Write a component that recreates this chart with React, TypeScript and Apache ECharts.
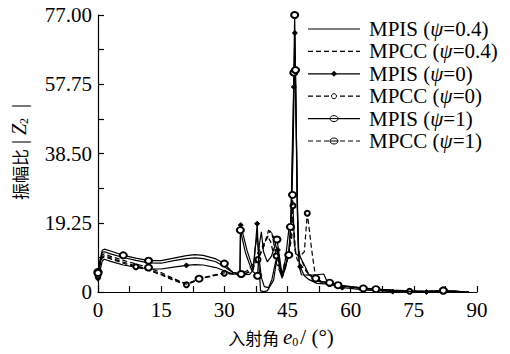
import React, { useEffect, useRef } from 'react';
import * as echarts from 'echarts';

const SERIF = 'Liberation Serif';
const CJK = 'Noto Sans CJK SC';
const FS = 21;

const seriesNames = ['MPIS (ψ=0.4)', 'MPCC (ψ=0.4)', 'MPIS (ψ=0)', 'MPCC (ψ=0)', 'MPIS (ψ=1)', 'MPCC (ψ=1)'];

// MPIS ψ=0.4
const mpis04X = [0, 0.5, 1, 1.5, 3, 6, 9, 12, 15, 18, 21, 23, 25, 28, 30, 32, 34, 36, 36.8, 37.3, 37.8, 38.3, 38.8, 39.5, 40.5, 41.3, 42, 42.6, 43.2, 43.7, 44.5, 45.3, 45.9, 46.3, 46.6, 46.8, 47.1, 47.4, 47.8, 48.3, 50, 52, 53.6, 54.4, 56, 58, 60, 63, 66, 70, 74, 78, 82, 85, 88];
const mpis04Y = [5.2, 8.5, 11, 11.2, 10.6, 9.6, 8.8, 8.1, 8.0, 8.7, 9.3, 9.5, 9.3, 8.4, 7.0, 5.4, 4.8, 4.9, 6, 12, 16, 9, 4, 1.5, 1.2, 3.5, 7.5, 10, 7, 4.2, 6.5, 11, 20, 38, 58, 66, 45, 20, 7, 4.8, 4.7, 4.8, 5.0, 2.9, 2.3, 1.8, 1.5, 1.1, 0.8, 0.5, 0.3, 0.2, 0.3, 0.2, 0.05];

// MPCC ψ=0.4
const mpcc04X = [0, 0.5, 1, 1.5, 3, 6, 9, 12, 15, 18, 21, 24, 27, 30, 32, 35, 37, 39, 40.2, 41, 42, 43.7, 45, 46, 46.3, 46.7, 47.3, 48.5, 50, 52, 55, 57, 60, 63, 66, 70, 74, 78, 82, 85, 88];
const mpcc04Y = [4.8, 7.8, 9.8, 10.1, 9.5, 8.3, 7.3, 6.3, 5.0, 3.4, 2.1, 3.6, 4.5, 5.2, 5.0, 5.0, 7, 12, 15.5, 14, 9, 4.2, 9, 15, 20, 12, 9, 7, 5, 3, 2.3, 1.8, 1.4, 1.0, 0.7, 0.4, 0.2, 0.1, 0.3, 0.2, 0.0];

// MPIS ψ=0
const mpis0X = [0, 0.5, 1, 1.5, 3, 6, 9, 12, 15, 18, 21, 23, 25, 28, 30, 32, 33.7, 33.9, 35.4, 36.9, 37.4, 37.8, 38.1, 38.6, 39.4, 40.2, 41.7, 42.3, 42.7, 43.2, 43.7, 44.5, 45.3, 45.8, 46.2, 46.5, 46.75, 47.0, 47.3, 47.6, 48, 49, 50, 52, 55, 58, 60, 63, 66, 70, 74, 78, 82, 85, 88];
const mpis0Y = [3.7, 6, 8.6, 9.1, 8.5, 7.5, 6.9, 6.4, 6.4, 6.9, 7.4, 7.6, 7.5, 6.8, 5.9, 5.0, 4.9, 18.6, 11.5, 6.1, 13, 19, 10, 0.3, 0.1, 0.3, 3.3, 8, 11.7, 7, 3.8, 7.5, 10.3, 20, 43, 57, 72, 50, 25, 10, 7, 4.5, 3.5, 2.4, 2.2, 1.2, 1.0, 0.6, 0.4, 0.1, 0.0, 0.0, 0.1, 0.1, 0.0];
const mpis0Marks = [0, 9, 21, 33.9, 37.8, 42.7, 45.3, 46.5, 46.75, 48, 58, 70, 78];

// MPCC ψ=0
const mpcc0X = [0, 0.5, 1, 1.5, 3, 6, 9, 12, 15, 18, 21, 24, 27, 30, 32, 34, 36, 38, 39.5, 40.5, 41.3, 42.3, 43.7, 44.5, 45.3, 46, 46.3, 46.6, 47, 48, 49, 49.7, 50.8, 51.7, 53, 55, 57, 60, 63, 66, 70, 74, 78, 82, 85, 88];
const mpcc0Y = [4.5, 7.5, 9.5, 9.8, 9.2, 8.0, 7.0, 6.0, 4.8, 3.2, 2.0, 3.5, 4.4, 5.2, 5.0, 4.8, 5.5, 9, 13, 17.2, 16.3, 10, 3.8, 7, 10.3, 18, 24, 14, 10.5, 10, 11.2, 21.9, 11.2, 3.8, 2.8, 2.4, 1.8, 1.4, 1.0, 0.7, 0.4, 0.2, 0.1, 0.3, 0.2, 0.0];
const mpcc0Marks = [0, 9, 21, 30, 38, 42.3, 46.3, 49.7, 55, 63, 74];

// MPIS ψ=1
const mpis1X = [0, 0.5, 1, 1.5, 3, 6, 9, 12, 15, 18, 21, 23, 25, 28, 30, 31, 32, 33.7, 33.8, 35, 36.5, 37.9, 38.3, 38.8, 39.3, 40.2, 41.2, 42.5, 43.2, 43.7, 44.5, 45.3, 45.7, 46.0, 46.3, 46.5, 46.7, 46.9, 47.1, 47.3, 47.6, 48, 49, 50, 52, 55, 57, 60, 63, 66, 70, 74, 78, 82, 85, 88];
const mpis1Y = [5.6, 9, 11.6, 11.9, 11.4, 10.2, 9.4, 8.7, 8.7, 9.4, 10.1, 10.4, 10.2, 9.2, 7.9, 6.6, 5.5, 5.1, 17.2, 11, 6, 4.5, 13, 16.7, 11.2, 8.4, 10, 14.6, 9, 4.7, 9, 17.2, 18.1, 28, 44, 61, 77, 61.7, 44.5, 28, 12, 9.8, 7.5, 5, 3, 2.6, 1.8, 1.4, 1.0, 0.8, 0.4, 0.2, 0.2, 0.4, 0.2, 0.0];
const mpis1Marks = [0, 6, 12, 30, 33.8, 37.9, 42.5, 45.7, 46.5, 46.7, 46.9, 55, 63, 82];

// MPCC ψ=1
const mpcc1X = [0, 0.5, 1, 1.5, 3, 6, 9, 12, 15, 18, 21, 24, 27, 30, 32, 34, 35.5, 37, 38, 39, 40.2, 40.8, 41.5, 42.5, 43.7, 44.5, 45.3, 45.8, 46.2, 46.5, 47, 48, 49, 50, 51.7, 53, 55, 57, 60, 63, 66, 70, 74, 78, 82, 85, 88];
const mpcc1Y = [5.3, 8, 10.3, 10.6, 9.9, 8.8, 7.8, 6.8, 5.4, 3.7, 2.2, 3.7, 4.6, 5.3, 5.1, 5.0, 6, 8, 11, 12.6, 15, 17, 16, 11.7, 4.7, 9, 10.3, 16, 27, 18, 10.3, 9.8, 7, 5, 3.8, 3, 2.4, 1.9, 1.5, 1.1, 0.8, 0.4, 0.2, 0.2, 0.4, 0.2, 0.0];
const mpcc1Marks = [0, 12, 24, 34, 45.3, 46.2, 51.7, 57, 66, 82];

const DASH = [5, 3];

function buildData(xs: number[], ys: number[], marks: number[] | null) {
  return xs.map((x, i) =>
    marks && marks.includes(x) ? { value: [x, ys[i]] } : { value: [x, ys[i]], symbol: 'none' }
  );
}

function mkSeries(name: string, xs: number[], ys: number[], marks: number[] | null, dashed: boolean, symbol: string, size: any, z: number) {
  return {
    name,
    type: 'line',
    data: buildData(xs, ys, marks),
    symbol,
    symbolSize: size,
    showAllSymbol: true,
    z,
    lineStyle: { color: '#000', width: 1.2, type: dashed ? DASH : 'solid' },
    itemStyle: { color: '#000', borderColor: '#000', borderWidth: 1 },
    emphasis: { disabled: true },
  };
}

// legend drawn by hand (marker kinds per row)
const legendKinds = ['none', 'none', 'diamond', 'smallCircle', 'ellipse', 'ellipse'];
const legendDashed = [false, true, false, true, false, true];

function legendGraphics() {
  const out: any[] = [];
  seriesNames.forEach((name, i) => {
    const y = 29 + i * 22.4;
    out.push({
      type: 'line', shape: { x1: 308, y1: y, x2: 360, y2: y },
      style: { stroke: '#000', lineWidth: 1.2, lineDash: legendDashed[i] ? DASH : null },
    });
    const k = legendKinds[i];
    if (k === 'diamond') {
      out.push({ type: 'polygon', shape: { points: [[334, y - 3], [337, y], [334, y + 3], [331, y]] }, style: { fill: '#000' } });
    } else if (k === 'smallCircle') {
      out.push({ type: 'circle', shape: { cx: 334, cy: y, r: 2.5 }, style: { fill: '#fff', stroke: '#000', lineWidth: 1 } });
    } else if (k === 'ellipse') {
      out.push({ type: 'ellipse', shape: { cx: 334, cy: y, rx: 4, ry: 3 }, style: { fill: '#fff', stroke: '#000', lineWidth: 1 } });
      out.push({ type: 'line', shape: { x1: 330, y1: y, x2: 338, y2: y }, style: { stroke: '#000', lineWidth: 1 } });
    }
    const [pre, post] = name.split('ψ');
    out.push({
      type: 'text', x: 369, y,
      style: {
        text: `{a|${pre}}{i|ψ}{a|${post}}`, align: 'left', verticalAlign: 'middle',
        rich: {
          a: { fontFamily: SERIF, fontSize: FS, fill: '#000' },
          i: { fontFamily: SERIF, fontSize: FS, fontStyle: 'italic', fill: '#000' },
        },
      },
    });
  });
  return out;
}

export default function App() {
  const ref = useRef<HTMLDivElement>(null);
  useEffect(() => {
    if (!ref.current) return;
    const chart = echarts.init(ref.current, null, { renderer: 'svg' });
    const option: any = {
      animation: false,
      backgroundColor: '#fff',
      grid: { left: 98, right: 33, top: 15, bottom: 62, containLabel: false, outerBoundsMode: 'none' },
      xAxis: {
        type: 'value', min: 0, max: 90, interval: 7.5,
        axisLine: { onZero: false, lineStyle: { color: '#000', width: 1.2 } },
        axisTick: { inside: true, length: 6, lineStyle: { color: '#000', width: 1.2 } },
        axisLabel: {
          margin: 7, color: '#000', fontFamily: SERIF, fontSize: FS,
          formatter: (v: number) => (Math.abs(v / 15 - Math.round(v / 15)) < 1e-6 ? String(v) : ''),
        },
        splitLine: { show: false },
      },
      yAxis: {
        type: 'value', min: 0, max: 77, interval: 9.625,
        axisLine: { show: true, lineStyle: { color: '#000', width: 1.2 } },
        axisTick: { show: true, inside: true, length: 6, lineStyle: { color: '#000', width: 1.2 } },
        axisLabel: {
          margin: 6, color: '#000', fontFamily: SERIF, fontSize: FS,
          formatter: (v: number) => {
            const r = v / 19.25;
            if (Math.abs(r - Math.round(r)) > 1e-6) return '';
            return v === 0 ? '0' : v.toFixed(2);
          },
        },
        splitLine: { show: false },
      },
      legend: { show: false },
      graphic: [
        ...legendGraphics(),
        {
          type: 'text', x: 19, y: 152, rotation: Math.PI / 2,
          style: {
            text: '{c|振幅比}{n| | }{z|Z}{s|2}{n|  |}',
            align: 'center', verticalAlign: 'middle',
            rich: {
              c: { fontFamily: CJK, fontSize: 17, fill: '#000' },
              n: { fontFamily: SERIF, fontSize: 20, fill: '#000' },
              z: { fontFamily: SERIF, fontSize: 20, fontStyle: 'italic', fill: '#000' },
              s: { fontFamily: SERIF, fontSize: 12, fill: '#000', padding: [10, 0, 0, 0] },
            },
          },
        },
        {
          type: 'text', x: 281, y: 337,
          style: {
            text: '{c|入射角 }{e|e}{s|0}{n|/ (°)}',
            align: 'center', verticalAlign: 'middle',
            rich: {
              c: { fontFamily: CJK, fontSize: 17, fill: '#000' },
              e: { fontFamily: SERIF, fontSize: FS, fontStyle: 'italic', fill: '#000' },
              s: { fontFamily: SERIF, fontSize: 12, fill: '#000', padding: [10, 2, 0, 0] },
              n: { fontFamily: SERIF, fontSize: FS, fill: '#000' },
            },
          },
        },
      ],
      series: [
        mkSeries(seriesNames[0], mpis04X, mpis04Y, null, false, 'none', 0, 3),
        mkSeries(seriesNames[1], mpcc04X, mpcc04Y, null, true, 'none', 0, 3),
        mkSeries(seriesNames[2], mpis0X, mpis0Y, mpis0Marks, false, 'diamond', 5, 4),
        mkSeries(seriesNames[3], mpcc0X, mpcc0Y, mpcc0Marks, true, 'emptyCircle', 5, 4),
        mkSeries(seriesNames[4], mpis1X, mpis1Y, mpis1Marks, false, 'emptyCircle', [7, 6], 5),
        mkSeries(seriesNames[5], mpcc1X, mpcc1Y, mpcc1Marks, true, 'emptyCircle', [7, 6], 5),
      ],
    };
    chart.setOption(option);
    return () => chart.dispose();
  }, []);
  return <div ref={ref} style={{ position: 'fixed', left: 0, top: 0, width: 510, height: 354, background: '#fff' }} />;
}
